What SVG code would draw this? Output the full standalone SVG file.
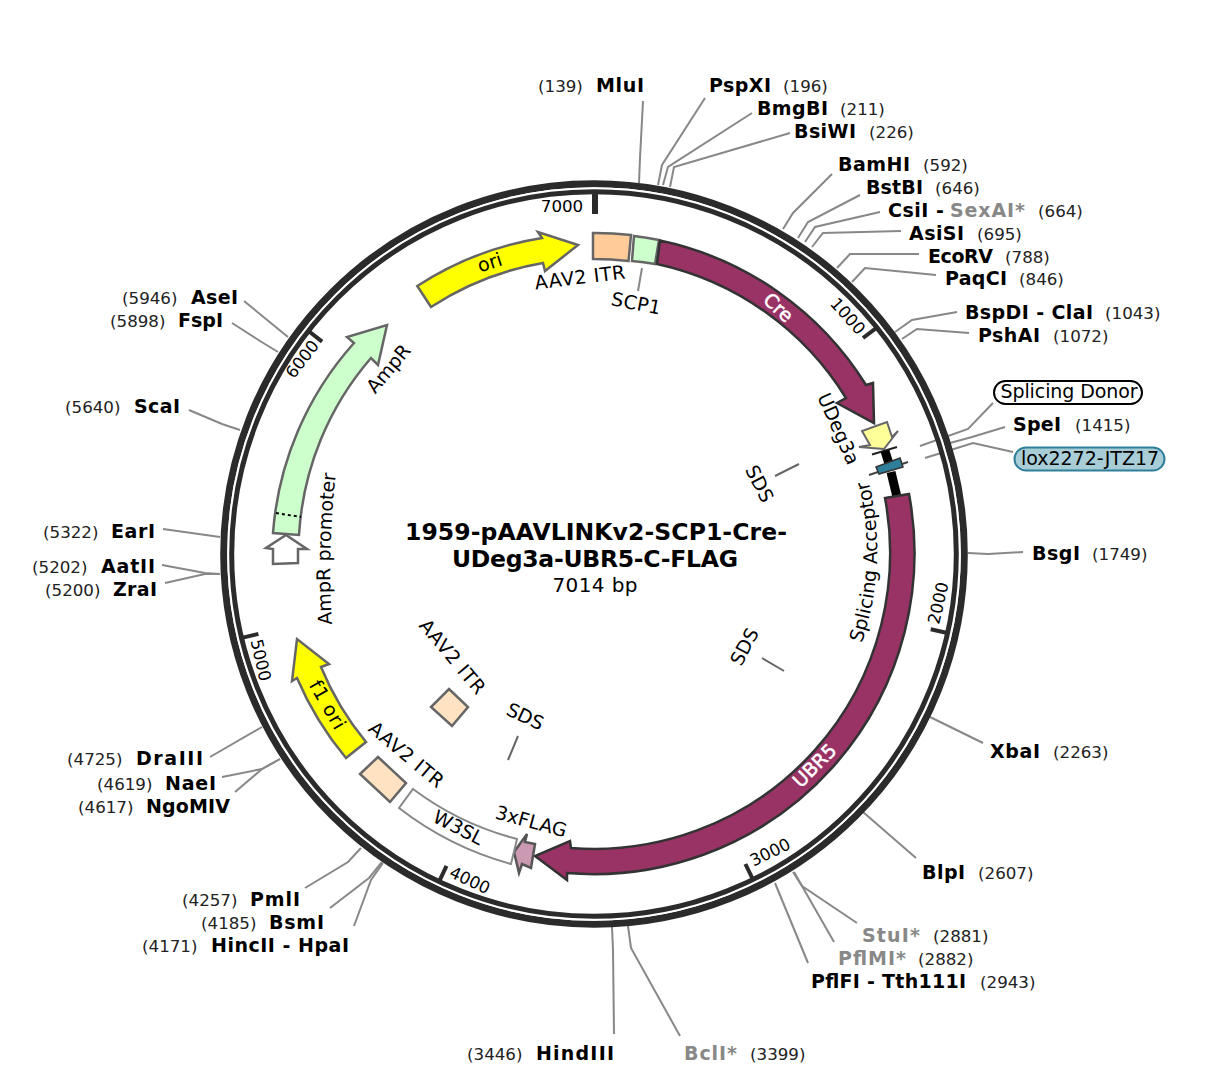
<svg xmlns="http://www.w3.org/2000/svg" width="1220" height="1087" viewBox="0 0 1220 1087">
<style>
text{font-family:"DejaVu Sans","Liberation Sans",sans-serif;fill:#000}
.b{font-weight:bold;font-size:19px}
.n{font-size:16.7px;fill:#222}
.g{fill:#888}
.l{font-size:19px;text-anchor:middle}
.t{font-size:16.7px;text-anchor:middle}
.w{fill:#fff;stroke:#fff;stroke-width:.5}
.c{fill:none;stroke:#888;stroke-width:2}
.f{stroke:#666;stroke-width:2.5;stroke-linejoin:miter}
.d{stroke:#333;stroke-width:2.5}
</style>
<rect width="1220" height="1087" fill="#fff"/>
<g id="connectors">
<polyline class="c" points="643,101 640,158 639,183"/>
<polyline class="c" points="705,98 662,165 658,185"/>
<polyline class="c" points="752,113 668,167 663,185"/>
<polyline class="c" points="790,133 674,167 670,187"/>
<polyline class="c" points="832,174 793,213 783,229"/>
<polyline class="c" points="860,195 808,222 798,238"/>
<polyline class="c" points="880,212 815,227 805,242"/>
<polyline class="c" points="901,231 823,233 812,247"/>
<polyline class="c" points="919,254 850,254 837,268"/>
<polyline class="c" points="936,275 865,268 852,282"/>
<polyline class="c" points="957,312 912,320 895,332"/>
<polyline class="c" points="969,333 917,329 902,339"/>
<polyline class="c" points="993,403 968,429 920,446"/>
<polyline class="c" points="1005,427 972,437 950,443"/>
<polyline class="c" points="1013,452 973,443 925,458"/>
<polyline class="c" points="1023,552 988,554 968,553"/>
<polyline class="c" points="983,743 930,717"/>
<polyline class="c" points="916,858 863,812"/>
<polyline class="c" points="857,923 802,886 793,872"/>
<polyline class="c" points="834,942 794,872"/>
<polyline class="c" points="808,963 775,883"/>
<polyline class="c" points="614,1034 613,950 612,927"/>
<polyline class="c" points="680,1036 631,948 628,926"/>
<polyline class="c" points="305,888 348,862 361,848"/>
<polyline class="c" points="330,908 369,878 382,862"/>
<polyline class="c" points="354,926 371,880 383,863"/>
<polyline class="c" points="222,777 262,769 280,759"/>
<polyline class="c" points="235,792 262,769 280,759"/>
<polyline class="c" points="210,757 262,727"/>
<polyline class="c" points="165,583 205,574 220,574"/>
<polyline class="c" points="162,565 205,573 220,574"/>
<polyline class="c" points="163,529 220,537"/>
<polyline class="c" points="189,410 222,424 240,430"/>
<polyline class="c" points="232,323 260,341 278,352"/>
<polyline class="c" points="244,301 288,337"/>
<polyline class="c" points="642,268 638,291"/>
<polyline class="c" points="799,464 775,476" style="stroke:#666"/>
<polyline class="c" points="784,671 762,658" style="stroke:#666"/>
<polyline class="c" points="518,736 508,760" style="stroke:#666"/>
</g>
<g id="backbone" fill="none">
<circle cx="594" cy="554" r="370.3" stroke="#2b2b2b" stroke-width="7"/>
<circle cx="594" cy="554" r="365.8" stroke="#fff" stroke-width="2"/>
<circle cx="594" cy="554" r="362.3" stroke="#2b2b2b" stroke-width="5"/>
<g stroke="#2b2b2b" stroke-width="4">
<line x1="595" y1="193" x2="595" y2="214" stroke-width="6"/>
<line x1="875.8" y1="328.4" x2="863" y2="338"/>
<line x1="946.3" y1="632.7" x2="930.7" y2="629.3"/>
<line x1="752.4" y1="878.4" x2="745.4" y2="864"/>
<line x1="439.7" y1="880.4" x2="446.5" y2="865.9"/>
<line x1="242.8" y1="637.6" x2="258.4" y2="633.9"/>
<line x1="309.5" y1="331.7" x2="322.1" y2="341.6"/>
</g>
</g>
<g id="ticks">
<text class="t" transform="translate(562 206)" y="6">7000</text>
<text class="t" transform="translate(848 316) rotate(48)" y="6">1000</text>
<text class="t" transform="translate(938 603) rotate(-77)" y="6">2000</text>
<text class="t" transform="translate(770 852) rotate(-26)" y="6">3000</text>
<text class="t" transform="translate(470 880) rotate(25)" y="6">4000</text>
<text class="t" transform="translate(261 660) rotate(77)" y="6">5000</text>
<text class="t" transform="translate(302 359) rotate(-52)" y="6">6000</text>
</g>
<g id="ori">
<path class="f" fill="#ffff00" d="M417.3 286A321 321 0 0 1 542 238L538 232L578 245L545 271L543 263A296 296 0 0 0 431 307Z"/>
<text class="l" transform="translate(490 263) rotate(-18)" y="6">ori</text>
</g>
<g id="aav2-itr-1">
<path class="f" fill="#ffcc99" d="M593 233A321 321 0 0 1 631 235L628.5 261A295 295 0 0 0 593 259Z"/>
<text class="l" transform="translate(580 278) rotate(-7)" y="6" textLength="91">AAV2 ITR</text>
</g>
<g id="scp1">
<path class="f" fill="#ccffcc" d="M634 236A321 321 0 0 1 659 240L655 264A295 295 0 0 0 632 261Z"/>
<text class="l" transform="translate(636 304) rotate(11)" y="6" textLength="50">SCP1</text>
</g>
<g id="cre">
<path class="d" fill="#993366" d="M660 240.5A321 321 0 0 1 866 385L873 383L874 423L837 403L846 398A296 296 0 0 0 657 264Z"/>
<text class="l w" transform="translate(778 308) rotate(43)" y="6">Cre</text>
</g>
<g id="udeg3a">
<polygon class="f" fill="#ffff99" style="stroke-width:2" points="884,449 859,447 870,445 862,431 887,422 892,437 898,431"/>
<text class="l" transform="translate(838 429) rotate(66)" y="6">UDeg3a</text>
</g>
<g id="lox2272">
<line x1="872" y1="454.5" x2="897" y2="447" stroke="#222" stroke-width="2"/>
<line x1="885" y1="451" x2="890" y2="467" stroke="#000" stroke-width="9"/>
<line x1="891" y1="472" x2="897" y2="497" stroke="#000" stroke-width="9"/>
<line x1="869" y1="475" x2="908" y2="462" stroke="#444" stroke-width="2"/>
<polygon fill="#2f7f9a" stroke="#333" stroke-width="1.5" points="876,467 900,458 903,467 879,474"/>
</g>
<g id="ubr5">
<path class="d" fill="#993366" d="M909 494A321 321 0 0 1 567 873L567 880L535 856L570 841L571 848A296 296 0 0 0 885 498Z"/>
<text class="l w" transform="translate(815 766) rotate(-45)" y="6">UBR5</text>
</g>
<g id="splicing-acceptor">
<path id="sa" d="M861 645A284 284 0 0 0 868 479" fill="none"/>
<text class="l"><textPath href="#sa" startOffset="50%">Splicing Acceptor</textPath></text>
</g>
<g id="flag">
<polygon fill="#cc99b3" stroke="#555" stroke-width="2.5" points="514,852 527,834 525,842 535,844 531,868 522,864 519,873"/>
<text class="l" transform="translate(531 822) rotate(15)" y="6" textLength="73">3xFLAG</text>
</g>
<g id="w3sl">
<path class="f" style="stroke:#888;stroke-width:2" fill="#fff" d="M413 789A296 296 0 0 0 517 839L511 864A321 321 0 0 1 399 808Z"/>
<text class="l" transform="translate(458 828) rotate(27)" y="6">W3SL</text>
</g>
<g id="aav2-itr-2">
<polygon class="f" fill="#ffe2c2" points="378,757 406,783 390,802 360,774"/>
<text class="l" transform="translate(406 755) rotate(40)" y="6" textLength="91">AAV2 ITR</text>
</g>
<g id="aav2-itr-3">
<polygon class="f" fill="#ffe2c2" points="449,689 468,707 452,726 431,707"/>
<text class="l" transform="translate(452 657) rotate(50)" y="6" textLength="91">AAV2 ITR</text>
</g>
<g id="f1-ori">
<path class="f" fill="#ffff00" d="M346 758A321 321 0 0 1 297 678L292 681L297 639L329 664L321 667A295 295 0 0 0 366 742Z"/>
<text class="l" transform="translate(327 705) rotate(60)" y="6" textLength="53">f1 ori</text>
</g>
<g id="ampr">
<path class="f" fill="#ccffcc" d="M273 533A321 321 0 0 1 354 343L347 337L387 325L378 365L371 358A297 297 0 0 0 299 535Z"/>
<line x1="276" y1="513" x2="301" y2="517" stroke="#000" stroke-width="2" stroke-dasharray="3 3"/>
<text class="l" transform="translate(389 369) rotate(-50)" y="6">AmpR</text>
</g>
<g id="ampr-promoter">
<polygon class="f" fill="#fff" points="286,535 307,549 298,549 298,563 273,564 273,549 266,548"/>
<path id="ap" d="M332 625Q327 550 336 473" fill="none"/>
<text class="l"><textPath href="#ap" startOffset="50%">AmpR promoter</textPath></text>
</g>
<g id="sds">
<text class="l" transform="translate(759 484) rotate(63)" y="6">SDS</text>
<text class="l" transform="translate(745 647) rotate(-62)" y="6">SDS</text>
<text class="l" transform="translate(525 717) rotate(25)" y="6">SDS</text>
</g>
<g id="title" text-anchor="middle">
<text x="596" y="540" font-weight="bold" font-size="23.5" textLength="382">1959-pAAVLINKv2-SCP1-Cre-</text>
<text x="595" y="567" font-weight="bold" font-size="23.5" textLength="286">UDeg3a-UBR5-C-FLAG</text>
<text x="595" y="592" font-size="20" textLength="85">7014 bp</text>
</g>
<g id="splicing-donor">
<rect x="994" y="381" width="148" height="23" rx="11.5" fill="#fff" stroke="#000" stroke-width="2"/>
<text class="l" x="1069" y="398" textLength="137">Splicing Donor</text>
</g>
<g id="lox-label">
<rect x="1014.5" y="447.5" width="150" height="23" rx="11.5" fill="#a9cdd6" stroke="#2f7f9a" stroke-width="2"/>
<text class="l" x="1090" y="465">lox2272-JTZ17</text>
</g>
<g id="site-MluI"><text class="n" x="538" y="92">(139)</text><text class="b" x="596" y="92" textLength="48">MluI</text></g>
<g id="site-PspXI"><text class="b" x="709" y="92" textLength="62">PspXI</text><text class="n" x="783" y="92">(196)</text></g>
<g id="site-BmgBI"><text class="b" x="757" y="115" textLength="71">BmgBI</text><text class="n" x="840" y="115">(211)</text></g>
<g id="site-BsiWI"><text class="b" x="794" y="138" textLength="62">BsiWI</text><text class="n" x="869" y="138">(226)</text></g>
<g id="site-BamHI"><text class="b" x="838" y="171" textLength="72">BamHI</text><text class="n" x="923" y="171">(592)</text></g>
<g id="site-BstBI"><text class="b" x="866" y="194" textLength="57">BstBI</text><text class="n" x="935" y="194">(646)</text></g>
<g id="site-CsiI"><text class="b" x="888" y="217" textLength="56">CsiI -</text><text class="b g" x="950" y="217" textLength="75">SexAI*</text><text class="n" x="1038" y="217">(664)</text></g>
<g id="site-AsiSI"><text class="b" x="909" y="240" textLength="55">AsiSI</text><text class="n" x="977" y="240">(695)</text></g>
<g id="site-EcoRV"><text class="b" x="928" y="263" textLength="65">EcoRV</text><text class="n" x="1005" y="263">(788)</text></g>
<g id="site-PaqCI"><text class="b" x="945" y="285" textLength="62">PaqCI</text><text class="n" x="1019" y="285">(846)</text></g>
<g id="site-BspDI"><text class="b" x="965" y="319" textLength="128">BspDI - ClaI</text><text class="n" x="1105" y="319">(1043)</text></g>
<g id="site-PshAI"><text class="b" x="978" y="342" textLength="62">PshAI</text><text class="n" x="1053" y="342">(1072)</text></g>
<g id="site-SpeI"><text class="b" x="1013" y="431" textLength="48">SpeI</text><text class="n" x="1075" y="431">(1415)</text></g>
<g id="site-BsgI"><text class="b" x="1032" y="560" textLength="48">BsgI</text><text class="n" x="1092" y="560">(1749)</text></g>
<g id="site-XbaI"><text class="b" x="990" y="758" textLength="50">XbaI</text><text class="n" x="1053" y="758">(2263)</text></g>
<g id="site-BlpI"><text class="b" x="922" y="879" textLength="43">BlpI</text><text class="n" x="978" y="879">(2607)</text></g>
<g id="site-StuI"><text class="b g" x="862" y="942" textLength="58">StuI*</text><text class="n" x="933" y="942">(2881)</text></g>
<g id="site-PflMI"><text class="b g" x="838" y="965" textLength="68">PflMI*</text><text class="n" x="918" y="965">(2882)</text></g>
<g id="site-PflFI"><text class="b" x="811" y="988" textLength="155">PflFI - Tth111I</text><text class="n" x="980" y="988">(2943)</text></g>
<g id="site-HindIII"><text class="n" x="467" y="1060">(3446)</text><text class="b" x="536" y="1060" textLength="78">HindIII</text></g>
<g id="site-BclI"><text class="b g" x="684" y="1060" textLength="53">BclI*</text><text class="n" x="750" y="1060">(3399)</text></g>
<g id="site-HincII"><text class="n" x="142" y="952">(4171)</text><text class="b" x="211" y="952" textLength="138">HincII - HpaI</text></g>
<g id="site-BsmI"><text class="n" x="201" y="929">(4185)</text><text class="b" x="269" y="929" textLength="55">BsmI</text></g>
<g id="site-PmlI"><text class="n" x="182" y="906">(4257)</text><text class="b" x="250" y="906" textLength="50">PmlI</text></g>
<g id="site-NgoMIV"><text class="n" x="78" y="813">(4617)</text><text class="b" x="146" y="813" textLength="84">NgoMIV</text></g>
<g id="site-NaeI"><text class="n" x="97" y="790">(4619)</text><text class="b" x="165" y="790" textLength="51">NaeI</text></g>
<g id="site-DraIII"><text class="n" x="67" y="765">(4725)</text><text class="b" x="136" y="765" textLength="67">DraIII</text></g>
<g id="site-ZraI"><text class="n" x="45" y="596">(5200)</text><text class="b" x="113" y="596" textLength="44">ZraI</text></g>
<g id="site-AatII"><text class="n" x="32" y="573">(5202)</text><text class="b" x="101" y="573" textLength="54">AatII</text></g>
<g id="site-EarI"><text class="n" x="43" y="538">(5322)</text><text class="b" x="111" y="538" textLength="44">EarI</text></g>
<g id="site-ScaI"><text class="n" x="65" y="413">(5640)</text><text class="b" x="134" y="413" textLength="46">ScaI</text></g>
<g id="site-FspI"><text class="n" x="110" y="327">(5898)</text><text class="b" x="178" y="327" textLength="45">FspI</text></g>
<g id="site-AseI"><text class="n" x="122" y="304">(5946)</text><text class="b" x="191" y="304" textLength="47">AseI</text></g>
</svg>
